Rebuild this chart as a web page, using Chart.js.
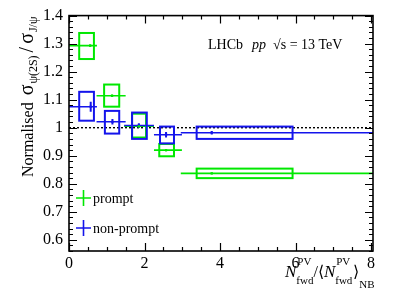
<!DOCTYPE html>
<html><head><meta charset="utf-8">
<script src="https://cdn.jsdelivr.net/npm/chart.js@4/dist/chart.umd.min.js"></script>
<style>html,body{margin:0;padding:0;background:#fff;} canvas{display:block;}</style>
</head><body>
<canvas id="c" width="407" height="299"></canvas>
<script>
// ---- data ----
const xTickValues = [0, 2, 4, 6, 8];
const xTickLabels = ['0', '2', '4', '6', '8'];
const yTickValues = [0.6, 0.7, 0.8, 0.9, 1.0, 1.1, 1.2, 1.3, 1.4];
const yTickLabels = ['0.6', '0.7', '0.8', '0.9', '1', '1.1', '1.2', '1.3', '1.4'];

// bin edges (horizontal error bars)
const binLo = [0.00, 0.73, 1.46, 2.25, 2.96];
const binHi = [0.74, 1.50, 2.25, 2.99, 8.05];

// prompt
const promptX = [0.56, 1.14, 1.85, 2.57, 3.78];
const promptY = [1.293, 1.114, 1.005, 0.920, 0.837];
const promptStat = [0.004, 0.004, 0.004, 0.004, 0.003];
const promptBoxXLo = [0.27, 0.93, 1.67, 2.39, 3.38];
const promptBoxXHi = [0.66, 1.33, 2.04, 2.78, 5.92];
const promptBoxYLo = [1.245, 1.075, 0.965, 0.898, 0.820];
const promptBoxYHi = [1.338, 1.154, 1.050, 0.942, 0.854];

// non-prompt
const nonpromptX = [0.575, 1.15, 1.85, 2.57, 3.78];
const nonpromptY = [1.075, 1.021, 1.008, 0.975, 0.982];
const nonpromptStat = [0.018, 0.010, 0.008, 0.010, 0.006];
const nonpromptBoxXLo = [0.27, 0.95, 1.67, 2.41, 3.38];
const nonpromptBoxXHi = [0.66, 1.33, 2.06, 2.78, 5.92];
const nonpromptBoxYLo = [1.025, 0.979, 0.960, 0.944, 0.960];
const nonpromptBoxYHi = [1.128, 1.060, 1.054, 1.004, 1.004];

const GREEN = 'rgb(0,232,0)';
const BLUE = 'rgb(20,20,235)';
const SERIF = "'Liberation Serif', 'Times New Roman', serif";

function drawSeries(ctx, x, y, col, X, Y, stat, bxl, bxh, byl, byh) {
  ctx.strokeStyle = col;
  for (let i = 0; i < X.length; i++) {
    ctx.lineWidth = 2;
    const l = x.getPixelForValue(bxl[i]), r = x.getPixelForValue(bxh[i]);
    const t = y.getPixelForValue(byh[i]), b = y.getPixelForValue(byl[i]);
    ctx.strokeRect(l, t, r - l, b - t);
    ctx.lineWidth = 1.6;
    const py = y.getPixelForValue(Y[i]);
    ctx.beginPath();
    ctx.moveTo(x.getPixelForValue(binLo[i]), py);
    ctx.lineTo(x.getPixelForValue(binHi[i]), py);
    ctx.stroke();
    ctx.lineWidth = 2;
    const px = x.getPixelForValue(X[i]);
    ctx.beginPath();
    ctx.moveTo(px, y.getPixelForValue(Y[i] + stat[i]));
    ctx.lineTo(px, y.getPixelForValue(Y[i] - stat[i]));
    ctx.stroke();
  }
}

const custom = {
  id: 'custom',
  beforeDatasetsDraw(chart) {
    const { ctx, chartArea: a, scales: { x, y } } = chart;
    ctx.save();
    ctx.beginPath();
    ctx.rect(a.left, a.top, a.right - a.left, a.bottom - a.top);
    ctx.clip();
    ctx.strokeStyle = '#000';
    ctx.lineWidth = 1.4;
    ctx.setLineDash([2, 2]);
    ctx.beginPath();
    ctx.moveTo(x.getPixelForValue(0), y.getPixelForValue(1));
    ctx.lineTo(x.getPixelForValue(8), y.getPixelForValue(1));
    ctx.stroke();
    ctx.setLineDash([]);
    drawSeries(ctx, x, y, GREEN, promptX, promptY, promptStat, promptBoxXLo, promptBoxXHi, promptBoxYLo, promptBoxYHi);
    drawSeries(ctx, x, y, BLUE, nonpromptX, nonpromptY, nonpromptStat, nonpromptBoxXLo, nonpromptBoxXHi, nonpromptBoxYLo, nonpromptBoxYHi);
    ctx.restore();
  },
  afterDraw(chart) {
    const { ctx, chartArea: a, scales: { x, y } } = chart;
    ctx.save();
    ctx.strokeStyle = '#000';
    ctx.lineWidth = 1.6;
    ctx.strokeRect(a.left, a.top, a.right - a.left, a.bottom - a.top);
    ctx.lineWidth = 1.2;
    ctx.beginPath();
    for (let k = 0; k <= 16; k++) {
      const v = k * 0.5;
      const px = Math.round(x.getPixelForValue(v)) + 0.5;
      const len = (k % 4 === 0) ? 8 : 4;
      ctx.moveTo(px, a.bottom); ctx.lineTo(px, a.bottom - len);
      ctx.moveTo(px, a.top); ctx.lineTo(px, a.top + len);
    }
    for (let k = 0; k <= 42; k++) {
      const v = 0.56 + k * 0.02;
      if (v > 1.4001) break;
      const py = Math.round(y.getPixelForValue(v)) + 0.5;
      const major = Math.abs(v * 10 - Math.round(v * 10)) < 1e-6;
      const len = major ? 8 : 4;
      ctx.moveTo(a.left, py); ctx.lineTo(a.left + len, py);
      ctx.moveTo(a.right, py); ctx.lineTo(a.right - len, py);
    }
    ctx.stroke();

    ctx.fillStyle = '#000';
    ctx.textBaseline = 'alphabetic';
    ctx.textAlign = 'left';

    // LHCb label
    let tx = 208;
    const ty = 49;
    ctx.font = '14px ' + SERIF;
    ctx.fillText('LHCb', tx, ty); tx += ctx.measureText('LHCb').width + 9;
    ctx.font = 'italic 14px ' + SERIF;
    ctx.fillText('pp', tx, ty); tx += ctx.measureText('pp').width + 7;
    ctx.font = '14px ' + SERIF;
    ctx.fillText('\u221As = 13 TeV', tx, ty);

    // legend
    const leg = [[GREEN, 'prompt', 198], [BLUE, 'non-prompt', 228]];
    for (const [c, label, cy] of leg) {
      ctx.strokeStyle = c; ctx.lineWidth = 1.6;
      ctx.beginPath();
      ctx.moveTo(76, cy); ctx.lineTo(91, cy);
      ctx.moveTo(83.5, cy - 8); ctx.lineTo(83.5, cy + 8);
      ctx.stroke();
      ctx.font = '14px ' + SERIF;
      ctx.fillText(label, 93, cy + 5);
    }

    // y axis title (rotated)
    ctx.save();
    ctx.translate(33, 177);
    ctx.rotate(-Math.PI / 2);
    let p = 0;
    const seg = (t, f, dy) => { ctx.font = f; ctx.fillText(t, p, dy); p += ctx.measureText(t).width; };
    seg('Normalised ', '16px ' + SERIF, 0);
    p += 3;
    seg('\u03C3', '20px ' + SERIF, 0);
    p += 1;
    seg('\u03C8(2S)', '12px ' + SERIF, 4);
    p += 3;
    seg('/', '20px ' + SERIF, 0);
    p += 3;
    seg('\u03C3', '20px ' + SERIF, 0);
    p += 1;
    seg('J/\u03C8', '12px ' + SERIF, 4);
    ctx.restore();

    // x axis title
    let xp = 285;
    const base = 277;
    const big = 'italic 17px ' + SERIF, small = '11px ' + SERIF;
    const supsub = (sup, sub) => {
      ctx.font = small;
      const w1 = ctx.measureText(sup).width, w2 = ctx.measureText(sub).width;
      ctx.fillText(sup, xp + 1, base - 12);
      ctx.fillText(sub, xp, base + 7);
      xp += Math.max(w1, w2) + 1;
    };
    ctx.font = big; ctx.fillText('N', xp, base); xp += ctx.measureText('N').width;
    supsub('PV', 'fwd');
    ctx.font = '16px ' + SERIF; ctx.fillText('/', xp - 1, base); xp += ctx.measureText('/').width - 1;
    ctx.font = '16px ' + SERIF; ctx.fillText('\u27E8', xp, base); xp += ctx.measureText('\u27E8').width;
    ctx.font = big; ctx.fillText('N', xp, base); xp += ctx.measureText('N').width;
    supsub('PV', 'fwd');
    ctx.font = '16px ' + SERIF; ctx.fillText('\u27E9', xp, base); xp += ctx.measureText('\u27E9').width;
    ctx.font = small; ctx.fillText('NB', xp, base + 11);
    ctx.restore();
  }
};

new Chart(document.getElementById('c'), {
  type: 'scatter',
  data: {
    datasets: [
      { label: 'prompt', data: promptX.map((v, i) => ({ x: v, y: promptY[i] })),
        pointStyle: 'rect', radius: 1.6, backgroundColor: GREEN, borderColor: GREEN, borderWidth: 0 },
      { label: 'non-prompt', data: nonpromptX.map((v, i) => ({ x: v, y: nonpromptY[i] })),
        pointStyle: 'rect', radius: 1.6, backgroundColor: BLUE, borderColor: BLUE, borderWidth: 0 }
    ]
  },
  options: {
    responsive: false,
    animation: false,
    devicePixelRatio: 1,
    layout: { padding: { left: 0, right: 34, top: 15, bottom: 0 } },
    plugins: { legend: { display: false }, tooltip: { enabled: false } },
    scales: {
      x: {
        type: 'linear', min: 0, max: 8.05,
        grid: { display: false, drawTicks: false }, border: { display: false },
        afterBuildTicks: s => { s.ticks = xTickValues.map(v => ({ value: v })); },
        afterFit: s => { s.height = 48; },
        ticks: { padding: 3, maxRotation: 0, autoSkip: false, color: '#000',
                 font: { family: SERIF, size: 16 },
                 callback: (v, i) => xTickLabels[i] }
      },
      y: {
        type: 'linear', min: 0.56, max: 1.4,
        grid: { display: false, drawTicks: false }, border: { display: false },
        afterBuildTicks: s => { s.ticks = yTickValues.map(v => ({ value: v })); },
        afterFit: s => { s.width = 69; },
        ticks: { padding: 6, autoSkip: false, color: '#000',
                 font: { family: SERIF, size: 16 },
                 callback: (v, i) => yTickLabels[i] }
      }
    }
  },
  plugins: [custom]
});
</script>
</body></html>
